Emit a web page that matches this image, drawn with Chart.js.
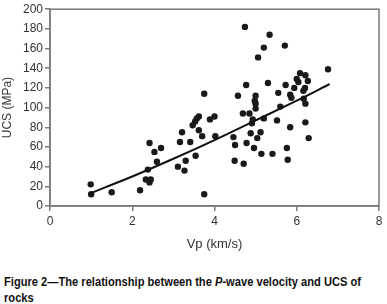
<!DOCTYPE html>
<html>
<head>
<meta charset="utf-8">
<script src="https://cdn.jsdelivr.net/npm/chart.js@4/dist/chart.umd.min.js"></script>
<style>
  html, body { margin: 0; padding: 0; background: #fff; width: 387px; height: 304px; overflow: hidden; }
  #wrap { position: absolute; left: 0; top: 0; width: 387px; height: 252px; }
  #cap { position: absolute; left: 4px; top: 274px; font-family: 'Liberation Sans', Arial, sans-serif; font-weight: bold; font-size: 13px; line-height: 16px; color: #111; white-space: nowrap; transform-origin: 0 0; }
</style>
</head>
<body>
<div id="wrap"><canvas id="c" width="387" height="252"></canvas></div>
<div id="cap"><span id="l1">Figure 2—The relationship between the <i>P</i>-wave velocity and UCS of</span><br>rocks</div>
<script>
// Measured samples: P-wave velocity (km/s) and UCS (MPa)
const vp = [0.99, 1.0, 1.5, 2.19, 2.33, 2.45, 2.42, 2.38, 2.42, 2.54, 2.6, 2.7,
  3.11, 3.27, 3.3, 3.16, 3.21, 3.41, 3.54, 3.47, 3.53, 3.57, 3.62, 3.62, 3.7, 3.89, 4.0, 4.02, 3.75, 3.75,
  4.74, 5.34, 5.2, 5.06, 5.71, 6.76, 4.77, 5.3, 6.08, 6.21, 6.0, 6.04, 6.27, 5.73, 5.94, 6.2, 6.16, 5.55,
  5.84, 5.87, 6.17, 6.21, 4.57, 5.0, 4.98, 5.0, 5.0, 5.6, 4.69, 4.85, 4.93, 4.91, 5.2, 5.52, 6.21, 5.84,
  4.46, 4.88, 5.12, 5.04, 6.29, 4.5, 4.78, 4.96, 5.76, 5.14, 5.41, 5.78, 4.49, 4.71];
const ucs = [22, 12, 14, 16, 27, 27, 24, 37, 64, 55, 45, 59,
  40, 36, 46, 65, 75, 65, 51, 82, 86, 89, 91, 77, 71, 88, 91, 71, 12, 114,
  182, 174, 161, 151, 163, 139, 123, 125, 135, 133, 129, 126, 127, 123, 120, 120, 117, 115,
  113, 110, 109, 104, 112, 112, 107, 104, 99, 101, 94, 94, 88, 84, 89, 87, 85, 80,
  70, 74, 75, 69, 69, 62, 64, 59, 59, 53, 53, 47, 46, 43];
// Trend line
const trendVp = [0.95, 2, 3, 4, 5, 6, 6.8];
const trendUcs = [12.5, 30, 48, 67, 87, 107, 124];
// Axis ticks
const xTicks = [0, 2, 4, 6, 8];
const yTicks = [0, 20, 40, 60, 80, 100, 120, 140, 160, 180, 200];

const pts = vp.map((v, i) => ({ x: v, y: ucs[i] }));
const trend = trendVp.map((v, i) => ({ x: v, y: trendUcs[i] }));

const axisCol = '#7a7a7a';
const tickFont = { family: "'Liberation Sans', Arial, sans-serif", size: 12 };

const frame = {
  id: 'frame',
  afterDraw(chart) {
    const a = chart.chartArea, ctx = chart.ctx;
    ctx.save();
    ctx.strokeStyle = axisCol;
    ctx.lineWidth = 1.5;
    ctx.strokeRect(a.left, a.top, a.right - a.left, a.bottom - a.top);
    ctx.restore();
  }
};

new Chart(document.getElementById('c'), {
  type: 'scatter',
  data: {
    datasets: [
      { data: trend, showLine: true, borderColor: '#111', borderWidth: 2, pointRadius: 0, fill: false, tension: 0.3, order: 0 },
      { data: pts, backgroundColor: '#1a1a1a', borderColor: '#1a1a1a', pointRadius: 3.2, pointBorderWidth: 0, order: 1 }
    ]
  },
  options: {
    responsive: false,
    animation: false,
    events: [],
    layout: { padding: { top: 6, right: 8, left: 0, bottom: 0 } },
    plugins: { legend: { display: false }, tooltip: { enabled: false } },
    scales: {
      x: {
        type: 'linear', min: 0, max: 8,
        afterBuildTicks(s) { s.ticks = xTicks.map(v => ({ value: v })); },
        afterFit(s) { s.height = 46; },
        ticks: { color: '#333', font: tickFont, padding: 3 },
        grid: { display: true, drawOnChartArea: false, drawTicks: true, tickLength: 5, color: axisCol, lineWidth: 1.5 },
        border: { display: true, color: axisCol, width: 1.5 },
        title: { display: true, text: 'Vp (km/s)', color: '#333', font: { family: "'Liberation Sans', Arial, sans-serif", size: 13 }, padding: { top: 4, bottom: 0 } }
      },
      y: {
        type: 'linear', min: 0, max: 200,
        afterBuildTicks(s) { s.ticks = yTicks.map(v => ({ value: v })); },
        afterFit(s) { s.width = 50; },
        ticks: { color: '#333', font: tickFont, padding: 2 },
        grid: { display: true, drawOnChartArea: false, drawTicks: true, tickLength: 5, color: axisCol, lineWidth: 1.5 },
        border: { display: true, color: axisCol, width: 1.5 },
        title: { display: true, text: 'UCS (MPa)', color: '#333', font: { family: "'Liberation Sans', Arial, sans-serif", size: 12 }, padding: { top: 0, bottom: 2 } }
      }
    }
  },
  plugins: [frame]
});

// fit caption width to the reference (~357px for first line)
const l1 = document.getElementById('l1');
const w = l1.getBoundingClientRect().width;
if (w > 0) document.getElementById('cap').style.transform = 'scaleX(' + (357 / w) + ')';
</script>
</body>
</html>
